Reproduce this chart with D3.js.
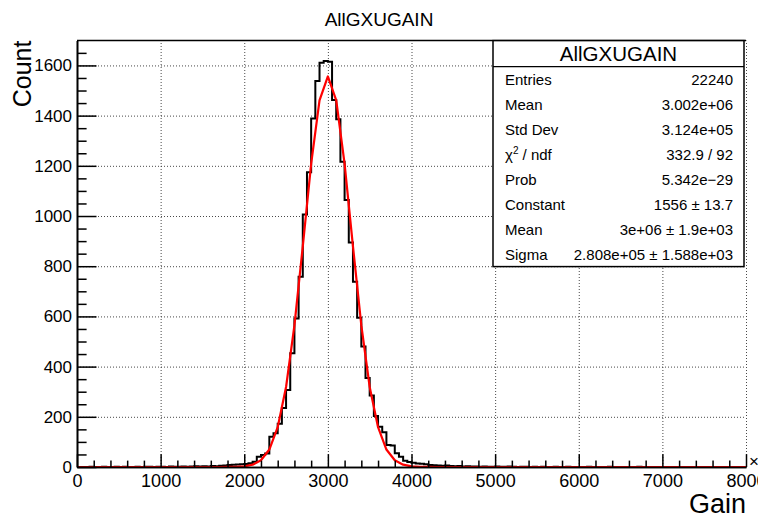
<!DOCTYPE html>
<html>
<head>
<meta charset="utf-8">
<script src="https://cdn.jsdelivr.net/npm/d3@7"></script>
<style>
  html, body { margin: 0; padding: 0; background: #fff; }
  svg { display: block; font-family: "Liberation Sans", Arial, Helvetica, sans-serif; }
</style>
</head>
<body>
<svg id="chart" width="758" height="515"></svg>
<script>
// Histogram definition: 160 bins of 50 (×10³) from 0 to 8000
const histTitle = "AllGXUGAIN";
const xTitle = "Gain";
const yTitle = "Count";
const xRange = [0, 8000];
const binWidth = 50;
const counts = [
  0, 0, 0, 1, 0, 0, 1, 0, 0, 1, 0, 1, 0, 0, 1, 0, 1, 1, 0, 1,
  1, 0, 2, 1, 1, 2, 1, 2, 3, 2,
  3, 2, 4, 3, 5, 6, 8, 9, 10, 11,
  12, 15, 21, 41, 48, 54, 121, 134, 172, 235,
  307, 453, 592, 758, 1006, 1174, 1389, 1538, 1611, 1618,
  1615, 1462, 1386, 1216, 1064, 894, 738, 595, 480, 355,
  285, 203, 160, 138, 88, 86, 55, 41, 25, 20,
  17, 14, 13, 11, 8, 7, 6, 5, 6, 4,
  3, 4, 2, 3, 2, 2, 1, 2, 1, 1,
  2, 1, 1, 2, 1, 0, 1, 1, 0, 1,
  0, 1, 0, 0, 1, 0, 0, 1, 0, 0,
  0, 0, 1, 0, 0, 0, 0, 1, 0, 0,
  0, 0, 0, 0, 1, 0, 0, 0, 0, 0,
  0, 0, 0, 0, 0, 0, 0, 0, 0, 0,
  0, 0, 0, 0, 0, 0, 0, 0, 0, 0
];

// Gaussian fit result (x in units of 10³)
const fitConstant = 1556;
const fitMean = 3000;
const fitSigma = 280.8;
const fitStep = 100;

// Axis ticks
const xTicks = [0, 1000, 2000, 3000, 4000, 5000, 6000, 7000, 8000];
const xMinorStep = 200;
const yTicks = [0, 200, 400, 600, 800, 1000, 1200, 1400, 1600];
const yMinorStep = 50;

// Statistics box
const statsLabels = ["Entries", "Mean", "Std Dev", "χ2 / ndf", "Prob", "Constant", "Mean", "Sigma"];
const statsValues = ["22240", "3.002e+06", "3.124e+05", "332.9 / 92", "5.342e−29",
                     "1556 ± 13.7", "3e+06 ± 1.9e+03", "2.808e+05 ± 1.588e+03"];

const svg = d3.select("#chart");
const frame = { left: 77, right: 746, top: 40.6, bottom: 467 };

const yMax = d3.max(counts) * 1.05;
const x = d3.scaleLinear().domain(xRange).range([frame.left, frame.right]);
const y = d3.scaleLinear().domain([0, yMax]).range([frame.bottom, frame.top]);

const gridStyle = g => g.selectAll("line")
  .attr("stroke", "#333").attr("stroke-width", 0.9).attr("stroke-dasharray", "1,2");

// Grid
svg.append("g")
  .attr("transform", `translate(0,${frame.bottom})`)
  .call(d3.axisBottom(x).tickValues(xTicks.filter(d => d > xRange[0]))
    .tickSize(-(frame.bottom - frame.top)).tickFormat(""))
  .call(g => g.select(".domain").remove())
  .call(gridStyle);
svg.append("g")
  .attr("transform", `translate(${frame.left},0)`)
  .call(d3.axisLeft(y).tickValues(yTicks.filter(d => d > 0))
    .tickSize(-(frame.right - frame.left)).tickFormat(""))
  .call(g => g.select(".domain").remove())
  .call(gridStyle);

// Histogram outline as steps
const stepPts = [[xRange[0], 0]];
counts.forEach((c, i) => {
  const x0 = xRange[0] + i * binWidth;
  stepPts.push([x0, c], [x0 + binWidth, c]);
});
stepPts.push([xRange[1], 0]);

svg.append("path")
  .datum(stepPts)
  .attr("fill", "none")
  .attr("stroke", "#000")
  .attr("stroke-width", 2)
  .attr("stroke-linejoin", "miter")
  .attr("d", d3.line().x(d => x(d[0])).y(d => y(d[1])));

// Fit curve
const fitPts = d3.range(xRange[0], xRange[1] + fitStep / 2, fitStep)
  .map(v => [v, fitConstant * Math.exp(-0.5 * ((v - fitMean) / fitSigma) ** 2)]);
svg.append("path")
  .datum(fitPts)
  .attr("fill", "none")
  .attr("stroke", "#ff0000")
  .attr("stroke-width", 2.2)
  .attr("stroke-linejoin", "round")
  .attr("d", d3.line().x(d => x(d[0])).y(d => y(d[1])));

// Axes (ticks point inward)
const axisStyle = g => {
  g.selectAll("line").attr("stroke", "#000").attr("stroke-width", 1.5);
  g.select(".domain").attr("stroke", "#000").attr("stroke-width", 1.6);
};
const xMinor = d3.range(xRange[0], xRange[1] + 1, xMinorStep).filter(v => !xTicks.includes(v));
const yMinor = d3.range(0, yMax, yMinorStep).filter(v => !yTicks.includes(v));

svg.append("g")
  .attr("transform", `translate(0,${frame.bottom})`)
  .call(d3.axisBottom(x).tickValues(xMinor).tickSize(-6.4).tickSizeOuter(0).tickFormat(""))
  .call(axisStyle);
svg.append("g")
  .attr("transform", `translate(0,${frame.bottom})`)
  .call(d3.axisBottom(x).tickValues(xTicks).tickSize(-12.8).tickSizeOuter(0).tickPadding(7)
    .tickFormat(d3.format("d")))
  .call(axisStyle)
  .call(g => g.selectAll("text").attr("font-size", 18).attr("fill", "#000")
    .attr("font-family", "Liberation Sans, Arial, sans-serif"));

svg.append("g")
  .attr("transform", `translate(${frame.left},0)`)
  .call(d3.axisLeft(y).tickValues(yMinor).tickSize(-9.6).tickSizeOuter(0).tickFormat(""))
  .call(axisStyle);
svg.append("g")
  .attr("transform", `translate(${frame.left},0)`)
  .call(d3.axisLeft(y).tickValues(yTicks).tickSize(-19.5).tickSizeOuter(0).tickPadding(5)
    .tickFormat(d3.format("d")))
  .call(axisStyle)
  .call(g => g.selectAll("text").attr("font-size", 17).attr("fill", "#000")
    .attr("font-family", "Liberation Sans, Arial, sans-serif"));

// Top frame edge
svg.append("line")
  .attr("x1", frame.left).attr("x2", frame.right)
  .attr("y1", frame.top).attr("y2", frame.top)
  .attr("stroke", "#000").attr("stroke-width", 1.5);

// Axis exponent marker
svg.append("text")
  .attr("x", frame.right + 3).attr("y", frame.bottom)
  .attr("font-size", 17)
  .text("×10³");

// Titles
svg.append("text")
  .attr("x", 379).attr("y", 26)
  .attr("text-anchor", "middle").attr("font-size", 19)
  .text(histTitle);
svg.append("text")
  .attr("x", frame.right).attr("y", 513)
  .attr("text-anchor", "end").attr("font-size", 27)
  .text(xTitle);
svg.append("text")
  .attr("transform", `translate(31,${frame.top}) rotate(-90)`)
  .attr("text-anchor", "end").attr("font-size", 25)
  .text(yTitle);

// Statistics box
const box = { x: 493, y: 40.6, w: 251, h: 226, titleH: 26, rowH: 25 };
const stats = svg.append("g");
stats.append("rect")
  .attr("x", box.x).attr("y", box.y).attr("width", box.w).attr("height", box.h)
  .attr("fill", "#fff").attr("stroke", "#000").attr("stroke-width", 1.5);
stats.append("line")
  .attr("x1", box.x).attr("x2", box.x + box.w)
  .attr("y1", box.y + box.titleH).attr("y2", box.y + box.titleH)
  .attr("stroke", "#000").attr("stroke-width", 1.2);
stats.append("text")
  .attr("x", box.x + box.w / 2).attr("y", box.y + 20)
  .attr("text-anchor", "middle").attr("font-size", 20.5)
  .text(histTitle);

statsLabels.forEach((lab, i) => {
  const by = box.y + box.titleH + box.rowH * i + 18;
  const t = stats.append("text").attr("x", box.x + 12).attr("y", by).attr("font-size", 15);
  if (lab.startsWith("χ2")) {
    t.append("tspan").text("χ");
    t.append("tspan").attr("font-size", 10).attr("dy", -6).text("2");
    t.append("tspan").attr("dy", 6).text(" / ndf");
  } else {
    t.text(lab);
  }
  stats.append("text")
    .attr("x", box.x + box.w - 11).attr("y", by)
    .attr("text-anchor", "end").attr("font-size", 15)
    .text(statsValues[i]);
});
</script>
</body>
</html>
